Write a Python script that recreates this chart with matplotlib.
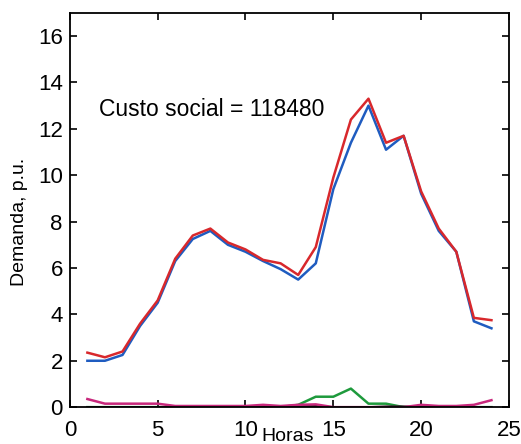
import numpy as np
import matplotlib.pyplot as plt

plt.rcParams['font.family'] = ['Liberation Sans', 'DejaVu Sans']

horas = np.arange(1, 25)

demanda_base = [2.0, 2.0, 2.25, 3.5, 4.5, 6.3, 7.25, 7.6, 7.0, 6.7, 6.3, 5.95,
                5.5, 6.2, 9.4, 11.4, 13.0, 11.1, 11.7, 9.2, 7.6, 6.7, 3.7, 3.4]
demanda_total = [2.35, 2.15, 2.4, 3.6, 4.6, 6.4, 7.4, 7.7, 7.1, 6.8, 6.35, 6.2,
                 5.7, 6.9, 9.9, 12.4, 13.3, 11.4, 11.7, 9.3, 7.7, 6.7, 3.85, 3.75]
carga_verde = [0, 0, 0, 0, 0, 0, 0, 0, 0, 0, 0, 0,
               0.1, 0.45, 0.45, 0.8, 0.15, 0.15, 0, 0, 0, 0, 0, 0]
carga_preta = [0, 0, 0, 0, 0, 0, 0, 0, 0, 0, 0, 0.03,
               0.05, 0.05, 0, 0, 0, 0.03, 0.03, 0, 0, 0, 0, 0]
carga_magenta = [0.35, 0.15, 0.15, 0.15, 0.15, 0.05, 0.05, 0.05, 0.05, 0.05, 0.1, 0.05,
                 0.1, 0.12, 0.0, 0.0, 0.0, 0.0, 0.0, 0.1, 0.05, 0.05, 0.1, 0.3]

fig, ax = plt.subplots(figsize=(5.21, 4.44), dpi=100)
fig.subplots_adjust(left=0.134, right=0.977, top=0.971, bottom=0.083)

ax.plot(horas, carga_verde, color='#1e9a3c', lw=1.8)
ax.plot(horas, carga_preta, color='#222222', lw=1.5)
ax.plot(horas, carga_magenta, color='#c8287c', lw=1.8)
ax.plot(horas, demanda_base, color='#1f5cc0', lw=1.8)
ax.plot(horas, demanda_total, color='#d8282c', lw=1.8)

ax.set_xlim(0, 25)
ax.set_ylim(0, 17)
ax.set_xticks([0, 5, 10, 15, 20, 25])
ax.set_yticks(range(0, 17, 2))
ax.tick_params(direction='in', top=True, right=True, labelsize=16, length=5,
               width=1.2)
ax.tick_params(axis='x', pad=9)
ax.tick_params(axis='y', pad=5)
for s in ax.spines.values():
    s.set_linewidth(1.3)

ax.text(1.65, 12.85, 'Custo social = 118480', fontsize=16.5, va='center', ha='left')
ax.set_xlabel('Horas', fontsize=14)
ax.xaxis.set_label_coords(0.495, -0.052)
ax.set_ylabel('Demanda, p.u.', fontsize=14)
ax.yaxis.set_label_coords(-0.095, 0.47)

fig.savefig('out.png', dpi=100)
